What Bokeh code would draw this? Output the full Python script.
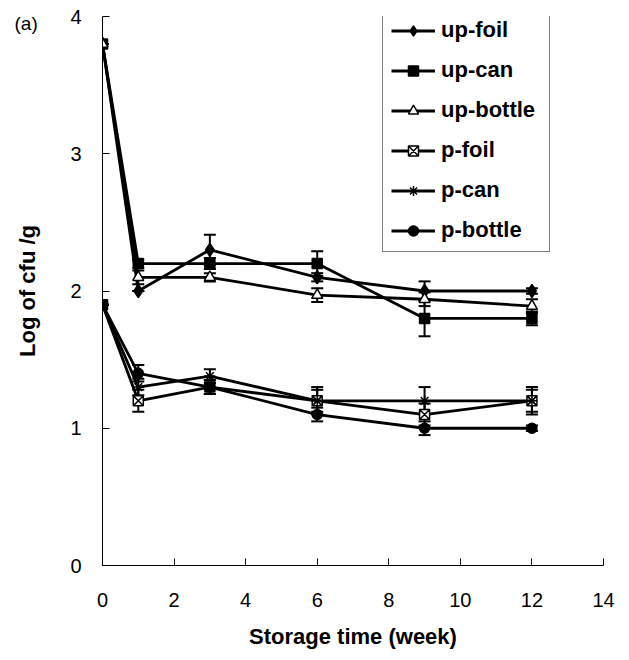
from bokeh.plotting import figure
from bokeh.models import (ColumnDataSource, Whisker, TeeHead, Legend, LegendItem,
                          Label, FixedTicker, Range1d)
from bokeh.embed import file_html
from bokeh.resources import INLINE

# ---- data ----
weeks = [0, 1, 3, 6, 9, 12]
names = ["up-foil", "up-can", "up-bottle", "p-foil", "p-can", "p-bottle"]
up_foil = [3.8, 2.0, 2.3, 2.1, 2.0, 2.0]
up_can = [3.8, 2.2, 2.2, 2.2, 1.8, 1.8]
up_bottle = [3.8, 2.1, 2.1, 1.97, 1.94, 1.89]
p_foil = [1.9, 1.2, 1.3, 1.2, 1.1, 1.2]
p_can = [1.9, 1.3, 1.38, 1.2, 1.2, 1.2]
p_bottle = [1.9, 1.4, 1.3, 1.1, 1.0, 1.0]
err_up_foil = [0, 0.0, 0.11, 0.03, 0.07, 0.02]
err_up_can = [0, 0.03, 0.04, 0.09, 0.13, 0.05]
err_up_bottle = [0, 0.05, 0.03, 0.05, 0.05, 0.05]
err_p_foil = [0, 0.08, 0.05, 0.08, 0.08, 0.1]
err_p_can = [0, 0.06, 0.05, 0.1, 0.1, 0.08]
err_p_bottle = [0, 0.06, 0.05, 0.05, 0.05, 0.02]
x_ticks = [0, 2, 4, 6, 8, 10, 12, 14]
y_ticks = [0, 1, 2, 3, 4]

values = [up_foil, up_can, up_bottle, p_foil, p_can, p_bottle]
errors = [err_up_foil, err_up_can, err_up_bottle, err_p_foil, err_p_can, err_p_bottle]
markers = ["diamond", "square", "triangle", "square_x", "asterisk", "circle"]
fills = ["black", "black", "white", "white", "black", "black"]
sizes = [13, 10, 11, 10, 11, 10]

FONT = "Liberation Sans"

p = figure(width=629, height=660, output_backend="svg", toolbar_location=None,
           x_range=Range1d(0, 14), y_range=Range1d(0, 4),
           min_border_left=102, min_border_right=26, min_border_top=16, min_border_bottom=95)
p.outline_line_color = None
p.grid.grid_line_color = None
p.background_fill_color = "white"

for ax in (p.xaxis, p.yaxis):
    ax.major_tick_in = 7
    ax.major_tick_out = 0
    ax.minor_tick_line_color = None
    ax.axis_line_color = "black"
    ax.axis_line_width = 1
    ax.major_tick_line_color = "black"
    ax.major_label_text_font = FONT
    ax.major_label_text_font_size = "20px"
    ax.major_label_text_color = "black"
    ax.axis_label_text_font = FONT
    ax.axis_label_text_font_size = "22px"
    ax.axis_label_text_font_style = "bold"
    ax.axis_label_text_color = "black"

p.xaxis.ticker = FixedTicker(ticks=x_ticks)
p.yaxis.ticker = FixedTicker(ticks=y_ticks)
p.xaxis.axis_label = "Storage time (week)"
p.yaxis.axis_label = "Log of cfu /g"
p.xaxis.major_label_standoff = 27
p.yaxis.major_label_standoff = 21
p.xaxis.axis_label_standoff = 14
p.yaxis.axis_label_standoff = 27

items = []
for name, vals, errs, mk, fc, sz in zip(names, values, errors, markers, fills, sizes):
    src = ColumnDataSource(dict(x=weeks, y=vals,
                                lo=[v - e for v, e in zip(vals, errs)],
                                hi=[v + e for v, e in zip(vals, errs)]))
    w = Whisker(source=src, base="x", lower="lo", upper="hi", dimension="height",
                line_color="black", line_width=2, level="underlay",
                upper_head=TeeHead(size=12, line_width=2, line_color="black"),
                lower_head=TeeHead(size=12, line_width=2, line_color="black"))
    p.add_layout(w)
    ln = p.line("x", "y", source=src, line_color="black", line_width=2.8)
    sc = p.scatter("x", "y", source=src, marker=mk, size=sz, fill_color=fc,
                   line_color="black", line_width=1.5)
    items.append(LegendItem(label=name, renderers=[ln, sc]))

legend = Legend(items=items, location=(280, 313))
legend.label_text_font = FONT
legend.label_text_font_size = "22px"
legend.label_text_font_style = "bold"
legend.label_text_color = "black"
legend.border_line_color = "black"
legend.border_line_width = 1.5
legend.background_fill_color = "white"
legend.background_fill_alpha = 1
legend.padding = 8
legend.spacing = 14
legend.glyph_height = 25
legend.label_height = 25
legend.glyph_width = 44
legend.label_standoff = 6
legend.label_width = 100
legend.margin = 0
p.add_layout(legend)

p.add_layout(Label(x=-589, y=542, x_units="screen", y_units="screen", text="(a)",
                   text_font=FONT, text_font_size="19px", text_baseline="middle",
                   text_color="black"), "right")

open("out.html", "w").write(file_html(p, INLINE))
